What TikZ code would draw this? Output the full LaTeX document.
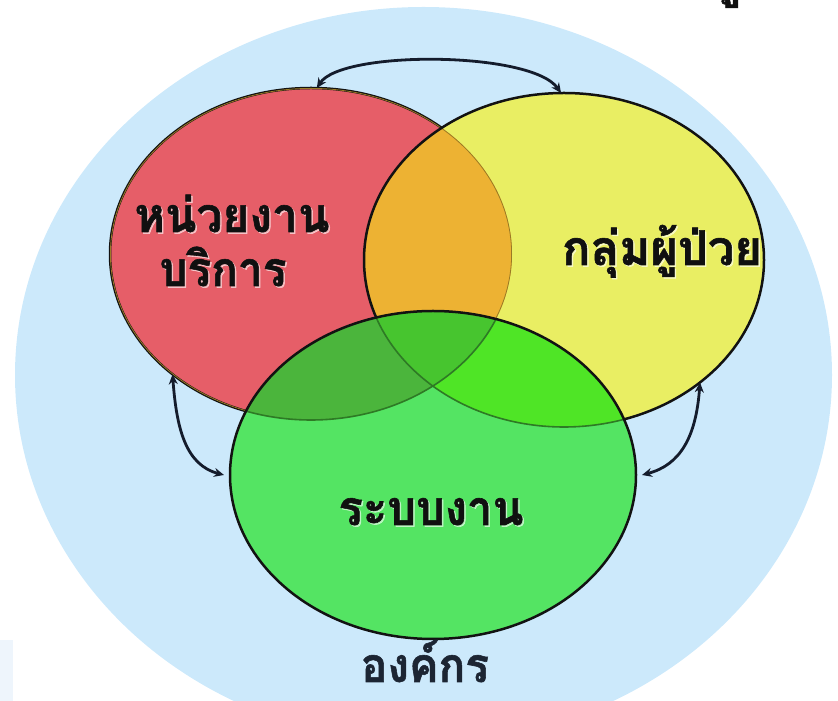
\documentclass[tikz,border=0pt]{standalone}
\usepackage{fontspec}
\usepackage{graphicx}
\usetikzlibrary{shapes.geometric,arrows.meta}
\newfontfamily\thaifont[Script=Thai, BoldFeatures={FakeBold=1.2}]{Loma}
\definecolor{bgblue}{HTML}{CCE9FB}
\definecolor{patchc}{HTML}{EEF5FC}
\definecolor{redc}{HTML}{E65E68}
\definecolor{yelc}{HTML}{E9EE63}
\definecolor{orac}{HTML}{EDB233}
\definecolor{grnc}{HTML}{54E463}
\definecolor{rgc}{HTML}{4BB53C}
\definecolor{ygc}{HTML}{4FE526}
\definecolor{allc}{HTML}{47C52F}
\definecolor{edgec}{HTML}{121212}
\definecolor{olivec}{HTML}{9A7A25}
\definecolor{dkgreen}{HTML}{2E7A25}
\definecolor{arrowc}{HTML}{141C2C}
\definecolor{txtc}{HTML}{101010}
\definecolor{orgtxt}{HTML}{1C2533}
\begin{document}
\begin{tikzpicture}[x=1pt,y=1pt,
  venn/.style={ellipse, inner sep=0pt, outer sep=0pt, draw=none},
  link/.style={draw=arrowc, line width=2.8pt, {Stealth[length=10pt,width=9pt]}-{Stealth[length=10pt,width=9pt]}},
  lbl/.style={font=\thaifont\bfseries\fontsize{48}{48}\selectfont, text=txtc, inner sep=0pt, anchor=base},
  glow/.style={lbl, text=white, opacity=0.55},
  rim/.style={line width=2.5pt, draw=edgec},
  innerrim/.style={line width=1.6pt},
]
\useasboundingbox (0,0) rectangle (838,701);
\def\ellB{(423.5,326) ellipse [x radius=408.5, y radius=368]}
\def\ellR{(311,447) ellipse [x radius=201, y radius=166]}
\def\ellY{(564,441) ellipse [x radius=200, y radius=167]}
\def\ellG{(433,226) ellipse [x radius=203, y radius=164]}
% background
\fill[bgblue] \ellB;
\fill[patchc] (0,0) rectangle (13,61);
% red
\fill[redc] \ellR;
\draw[rim] \ellR;
% yellow
\fill[yelc] \ellY;
\begin{scope}
  \clip \ellR;
  \fill[orac] \ellY;
  \draw[innerrim, olivec] \ellR;
\end{scope}
\draw[rim] \ellY;
% green
\fill[grnc] \ellG;
\begin{scope}
  \clip \ellG;
  \fill[rgc] \ellR;
  \fill[ygc] \ellY;
  \begin{scope}
    \clip \ellR;
    \fill[allc] \ellY;
  \end{scope}
  \draw[innerrim, dkgreen] \ellR;
  \draw[innerrim, dkgreen] \ellY;
\end{scope}
\draw[rim] \ellG;
% named shapes for connectors
\node[venn, minimum width=402pt, minimum height=332pt] (svc) at (311,447) {};
\node[venn, minimum width=400pt, minimum height=334pt] (pat) at (564,441) {};
\node[venn, minimum width=406pt, minimum height=328pt] (sys) at (433,226) {};
% connectors
\draw[link] (svc.88) .. controls +(25,38) and +(-30,42) .. (pat.91);
\draw[link] (svc.221) .. controls +(4,-55) and +(-38,10) .. ([xshift=-6pt]sys.180);
\draw[link] (pat.318) .. controls +(-4,-55) and +(38,10) .. ([xshift=6pt]sys.0);
% labels
\node[glow] (svc1g) at (233.5,467.5) {\resizebox{195pt}{\height}{หน่วยงาน}};
\node[lbl] (svc1) at (232,469) {\resizebox{195pt}{\height}{หน่วยงาน}};
\node[glow] (svc2g) at (224.5,413.5) {\resizebox{127pt}{\height}{บริการ}};
\node[lbl] (svc2) at (223,415) {\resizebox{127pt}{\height}{บริการ}};
\node[glow] (pat1g) at (663.5,434.5) {\resizebox{200pt}{\height}{กลุ่มผู้ป่วย}};
\node[lbl] (pat1) at (662,436) {\resizebox{200pt}{\height}{กลุ่มผู้ป่วย}};
\node[glow] (sys1g) at (432.5,174.5) {\resizebox{185pt}{\height}{ระบบงาน}};
\node[lbl] (sys1) at (431,176) {\resizebox{185pt}{\height}{ระบบงาน}};
\node[lbl, text=orgtxt, text depth=2pt] (org) at (425,19) {\resizebox{128pt}{\height}{องค์กร}};
\node[lbl] (frag) at (726,705) {ดู};
\end{tikzpicture}
\end{document}
